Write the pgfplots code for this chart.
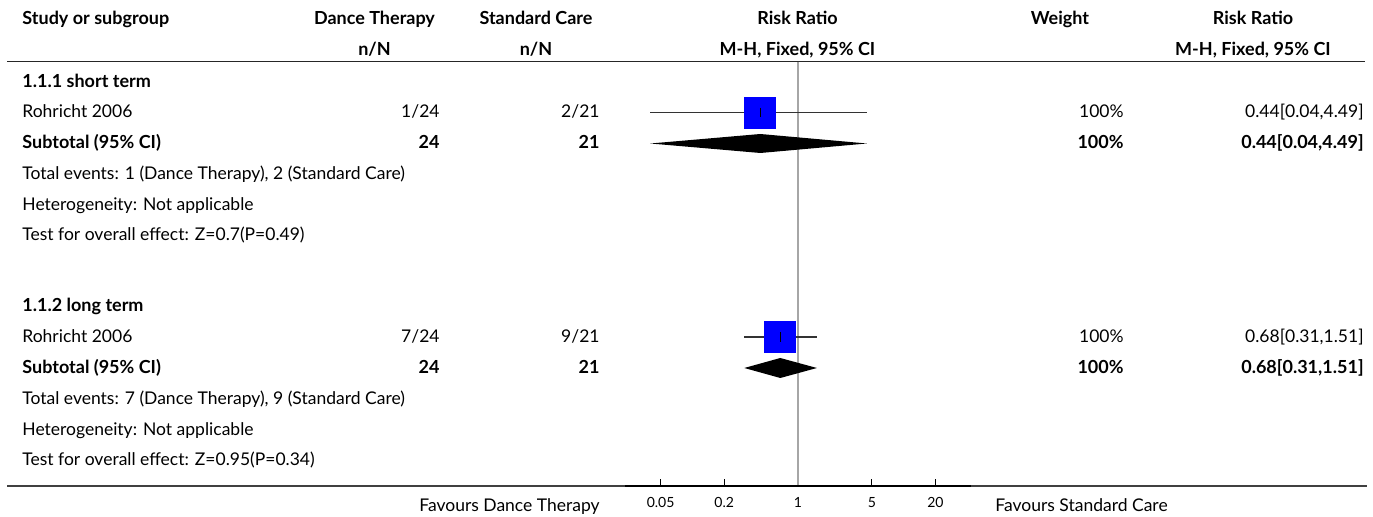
\documentclass[border=0pt]{standalone}
\usepackage{pgfplots}
\pgfplotsset{compat=1.18}
\usepackage{fontspec}
\setmainfont{Lato}
\newcommand\fs{\fontsize{8.75}{10}\selectfont}
\newcommand\fsb{\fontsize{9}{11}\selectfont\bfseries}
\definecolor{boxblue}{RGB}{0,0,255}
\begin{document}
\begin{tikzpicture}
\begin{scope}[x=0.5pt,y=-0.5pt,
  L/.style={anchor=mid west, inner sep=0pt, font=\fs},
  R/.style={anchor=mid east, inner sep=0pt, font=\fs},
  C/.style={anchor=mid, inner sep=0pt, font=\fs}]
\useasboundingbox (0,0) rectangle (1373,517);
\coordinate (AX) at (625,486);
% rules
\draw[line width=0.75pt, black!85] (7,61.7) -- (1365,61.7);
\draw[line width=0.7pt, black!75] (7,486) -- (1367,486);
% headers
\node[L,font=\fsb] at (22,19) {Study or subgroup};
\node[C,font=\fsb] at (374.5,19) {Dance Therapy};
\node[C,font=\fsb] at (374.5,50) {n/N};
\node[C,font=\fsb] at (536,19) {Standard Care};
\node[C,font=\fsb] at (536,50) {n/N};
\node[C,font=\fsb] at (797.5,19) {Risk Ratio};
\node[C,font=\fsb] at (797.5,50) {M-H, Fixed, 95\% CI};
\node[C,font=\fsb] at (1060,19) {Weight};
\node[C,font=\fsb] at (1253,19) {Risk Ratio};
\node[C,font=\fsb] at (1253,50) {M-H, Fixed, 95\% CI};
% group 1
\node[L,font=\fsb] at (22,82) {1.1.1 short term};
\node[L] at (22,112.5) {Rohricht 2006};
\node[R] at (440,112.5) {1/24};
\node[R] at (600,112.5) {2/21};
\node[R] at (1124,112.5) {100\%};
\node[R] at (1364,112.5) {0.44[0.04,4.49]};
\node[L,font=\fsb] at (22,143.5) {Subtotal (95\% CI)};
\node[R,font=\fsb] at (440,143.5) {24};
\node[R,font=\fsb] at (600,143.5) {21};
\node[R,font=\fsb] at (1124,143.5) {100\%};
\node[R,font=\fsb] at (1364,143.5) {0.44[0.04,4.49]};
\node[L] at (22,174) {Total events: 1 (Dance Therapy), 2 (Standard Care)};
\node[L] at (22,205) {Heterogeneity: Not applicable};
\node[L] at (22,235.5) {Test for overall effect: Z=0.7(P=0.49)};
% group 2
\node[L,font=\fsb] at (22,306) {1.1.2 long term};
\node[L] at (22,337) {Rohricht 2006};
\node[R] at (440,337) {7/24};
\node[R] at (600,337) {9/21};
\node[R] at (1124,337) {100\%};
\node[R] at (1364,337) {0.68[0.31,1.51]};
\node[L,font=\fsb] at (22,368) {Subtotal (95\% CI)};
\node[R,font=\fsb] at (440,368) {24};
\node[R,font=\fsb] at (600,368) {21};
\node[R,font=\fsb] at (1124,368) {100\%};
\node[R,font=\fsb] at (1364,368) {0.68[0.31,1.51]};
\node[L] at (22,399) {Total events: 7 (Dance Therapy), 9 (Standard Care)};
\node[L] at (22,430) {Heterogeneity: Not applicable};
\node[L] at (22,460.5) {Test for overall effect: Z=0.95(P=0.34)};
% favours
\node[R] at (600,506) {Favours Dance Therapy};
\node[L] at (995,506) {Favours Standard Care};
\end{scope}
% forest axis
\begin{axis}[at={(AX)}, anchor=south west, scale only axis,
  width=173pt, height=212.15pt,
  xmode=log, xmin=0.023, xmax=43.48, ymin=-486, ymax=-61.7,
  axis line style={draw=none},
  ytick=\empty, xtick pos=bottom,
  xtick={0.05,0.2,1,5,20}, xticklabels={0.05,0.2,1,5,20},
  tick align=inside, major tick length=3.5pt,
  xtick style={black, line width=0.6pt},
  xticklabel style={font=\fontsize{7}{8}\selectfont, inner sep=1pt, yshift=-4.5pt},
  clip=false]
\addplot[gray!70, line width=0.55pt] coordinates {(1,-61.7) (1,-486)};
% CI lines
\addplot[black!80, line width=0.55pt] coordinates {(0.04,-112.5) (4.49,-112.5)};
\addplot[black!80, line width=0.55pt] coordinates {(0.31,-337) (1.51,-337)};
% boxes
\addplot[only marks, mark=square*, mark size=7.75pt, color=boxblue]
  coordinates {(0.44,-112.5) (0.68,-337)};
\addplot[only marks, mark=|, mark size=2.4pt, color=black, mark options={line width=0.5pt}]
  coordinates {(0.44,-112.5) (0.68,-337)};
% diamonds
\addplot[fill=black, draw=none] coordinates {(0.04,-143.5) (0.44,-134) (4.49,-143.5) (0.44,-153)} -- cycle;
\addplot[fill=black, draw=none] coordinates {(0.31,-368) (0.68,-358) (1.51,-368) (0.68,-378)} -- cycle;
\draw[line width=1.1pt, black] (rel axis cs:0,0) -- (rel axis cs:1,0);
\end{axis}
\end{tikzpicture}
\end{document}
